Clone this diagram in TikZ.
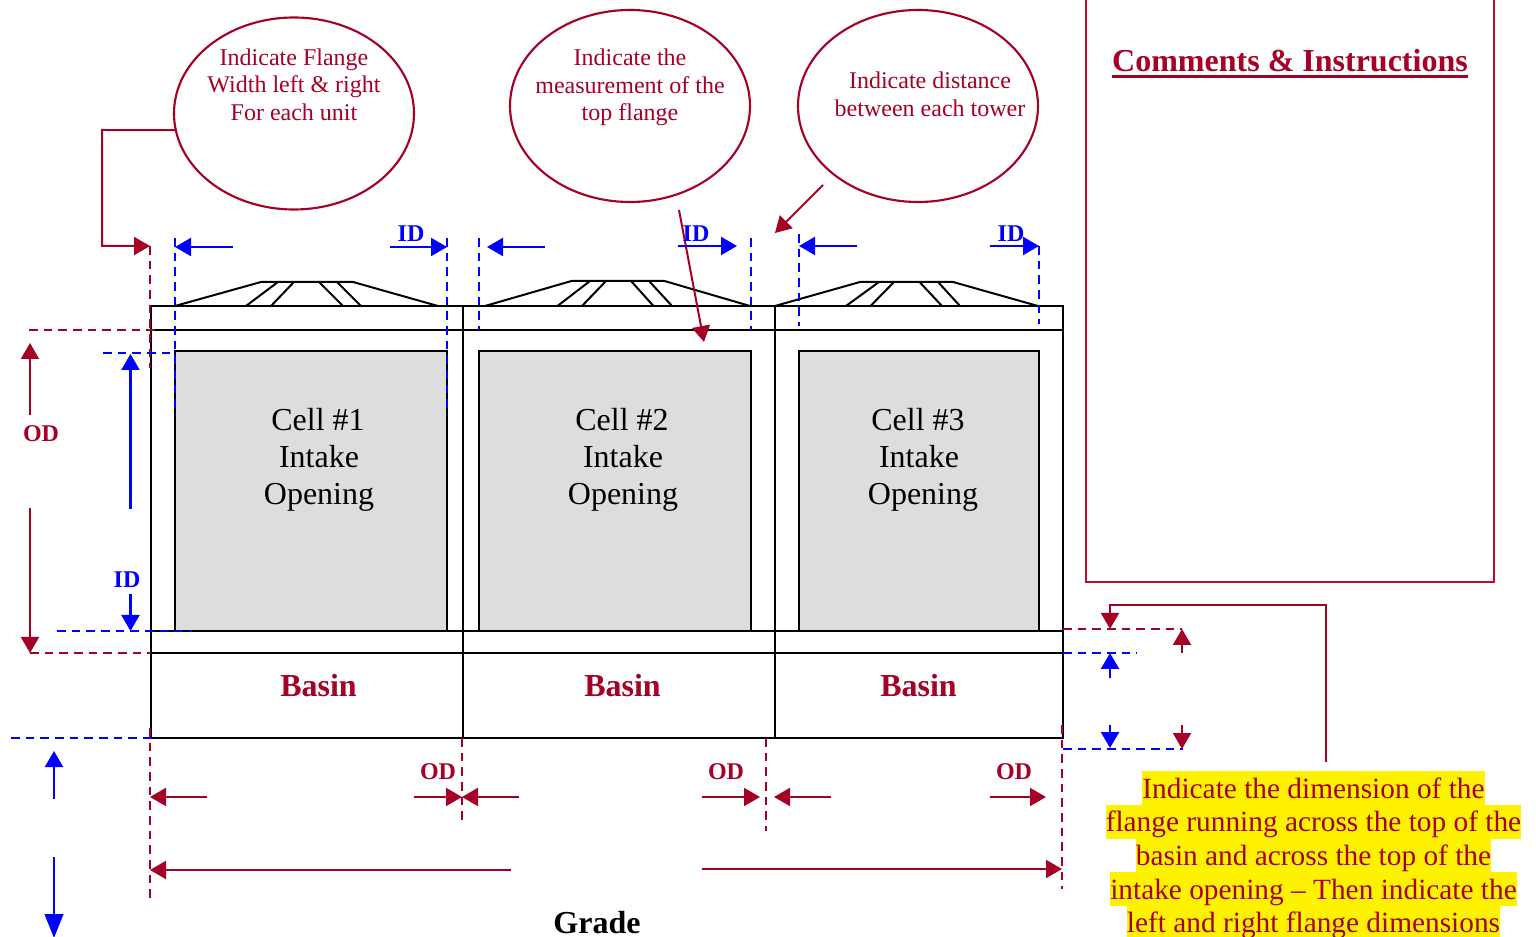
\documentclass[tikz,border=0pt]{standalone}
\usepackage{fontspec}
\setmainfont{Liberation Serif}
\usetikzlibrary{arrows.meta,shapes.geometric}
\definecolor{maroon}{RGB}{165,0,38}
\definecolor{cellgray}{RGB}{221,221,221}
\definecolor{boxred}{RGB}{190,10,40}
\newcommand{\fs}[1]{\fontsize{#1}{#1}\selectfont}
\tikzset{
  ln/.style={line width=1.5pt,black},
  tip/.style={-{Triangle[length=12pt,width=13.5pt]}},
  rdim/.style={line width=1.5pt,maroon,tip},
  bdim/.style={line width=1.6pt,blue,tip},
  rdash/.style={line width=1.4pt,maroon,dash pattern=on 6.5pt off 4.5pt},
  bdash/.style={line width=1.5pt,blue,dash pattern=on 6.5pt off 4.5pt},
  bubble/.style={ellipse,draw=maroon,line width=1.6pt,minimum width=180pt,minimum height=144pt,inner sep=0pt,outer sep=0pt},
  btxt/.style={anchor=base,text=maroon,inner sep=0pt,font=\fs{18pt}},
  celltxt/.style={anchor=base,inner sep=0pt,font=\fs{24pt}},
  basin/.style={anchor=base,text=maroon,inner sep=0pt,font=\fs{24pt}\bfseries},
  idl/.style={anchor=base,text=blue,inner sep=0pt,font=\fs{18pt}\bfseries},
  odl/.style={anchor=base,text=maroon,inner sep=0pt,font=\fs{18pt}\bfseries},
  hl/.style={anchor=base,text=maroon,fill=yellow,inner xsep=0pt,inner ysep=0pt,text height=20.25pt,text depth=5.25pt,font=\fs{22pt}},
  gcell/.style={draw=black,line width=1.5pt,fill=cellgray},
  fan/.style={line width=1.5pt,black,line join=round}
}
\begin{document}
\begin{tikzpicture}[x=0.75pt,y=-0.75pt]
\useasboundingbox (0,0) rectangle (1536,937);
% gray openings
\draw[gcell] (175,351) rectangle (447,631);
\draw[gcell] (479,351) rectangle (751,631);
\draw[gcell] (799,351) rectangle (1039,631);
% frame
\draw[ln] (151,306) rectangle (1063,738);
\foreach \x in {463,775} \draw[ln] (\x,306) -- (\x,738);
\foreach \y in {330,631,653} \draw[ln] (151,\y) -- (1063,\y);
% fans
\draw[fan] (175,306) -- (261,282) -- (353,282) -- (438,306);
\draw[fan] (278,282) -- (246,306) (294,282) -- (271,306) (319,282) -- (343,306) (337,282) -- (361,306);
\draw[fan] (485,306) -- (571.5,281) -- (664.5,281) -- (750,306);
\draw[fan] (590,281) -- (557.5,306) (606,281) -- (582,306) (631,281) -- (653.5,306) (649,281) -- (672,306);
\draw[fan] (775,306) -- (860,282) -- (953,282) -- (1038,306);
\draw[fan] (879,282) -- (846,306) (894,282) -- (870.5,306) (919.5,282) -- (942,306) (938,282) -- (960,306);
% cell text
\foreach \x/\n in {318/1,622/2,918/3}{
  \node[celltxt] (cell\n) at (\x,431) {Cell \#\n};
}
\foreach \x/\n/\xx in {319/1/319,623/2/623,919/3/923}{
  \node[celltxt] (intake\n) at (\x,468) {Intake};
  \node[celltxt] (open\n) at (\xx,505) {Opening};
}
\foreach \x/\n in {318.5/1,622.5/2,918.5/3}{
  \node[basin] (basin\n) at (\x,696) {Basin};
}
% bubbles
\node[bubble] (e1) at (294,113.5) {};
\node[bubble] (e2) at (630,106) {};
\node[bubble] (e3) at (918,106) {};
\node[btxt] (e1a) at (294,66) {Indicate Flange};
\node[btxt] (e1b) at (294,93) {Width left \& right};
\node[btxt] (e1c) at (294,121) {For each unit};
\node[btxt] (e2a) at (630,66) {Indicate the};
\node[btxt] (e2b) at (630,93.5) {measurement of the};
\node[btxt] (e2c) at (630,121) {top flange};
\node[btxt] (e3a) at (930,89) {Indicate distance};
\node[btxt] (e3b) at (930,117) {between each tower};
% comments box
\draw[boxred,line width=1.5pt] (1086,-3) -- (1086,582) -- (1494,582) -- (1494,-3);
\node[anchor=base,text=maroon,inner sep=0pt,font=\fs{24pt}\bfseries] (title) at (1290,72) {Comments \& Instructions};
\draw[maroon,line width=2.2pt] (title.west |- 0,76.5) -- (title.east |- 0,76.5);
% blue dashed verticals
\draw[bdash] (175,238) -- (175,415);
\draw[bdash] (447,238) -- (447,415);
\draw[bdash] (479,238) -- (479,330);
\draw[bdash] (751,238) -- (751,330);
\draw[bdash] (799,234) -- (799,326);
\draw[bdash] (1039,246) -- (1039,324);
% red dashed verticals
\draw[rdash] (150,246) -- (150,368);
\draw[rdash] (150,728) -- (150,904);
\draw[rdash] (462,738) -- (462,823);
\draw[rdash] (766,738) -- (766,831);
\draw[rdash] (1062,725) -- (1062,889);
% horizontal dashes
\draw[rdash] (29,330) -- (158,330);
\draw[bdash] (103,353) -- (175,353);
\draw[bdash] (57,631) -- (192,631);
\draw[rdash] (30,653) -- (151,653);
\draw[bdash] (11,738) -- (158,738);
\draw[rdash] (1063,629) -- (1182,629);
\draw[bdash] (1063,653) -- (1137,653);
\draw[bdash] (1063,749) -- (1183,749);
% elbow and callouts
\coordinate (c1) at (150,246);
\draw[rdim] (e1.188) -- (102,130) -- (102,246) -- (c1);
\draw[rdim] (679,210) -- (704,342);
\draw[rdim] (823,185) -- (775,233);
\coordinate (note) at (1326,762);
\draw[rdim] (note) -- (1326,605) -- (1110,605) -- (1110,629);
% top blue arrows
\draw[bdim] (233,247) -- (175,247);
\draw[bdim] (390,247) -- (447,247);
\draw[bdim] (545,247) -- (487,247);
\draw[bdim] (678,246) -- (737,246);
\draw[bdim] (857,246) -- (799,246);
\draw[bdim] (990,246) -- (1039,246);
\node[idl] (id1) at (411,242) {ID};
\node[idl] (id2) at (696,242) {ID};
\node[idl] (id3) at (1011,242) {ID};
% left dimensions
\draw[rdim] (30,415) -- (30,343);
\draw[rdim] (30,508) -- (30,653);
\node[odl] (od0) at (41,441.5) {OD};
\draw[bdim] (130.5,509) -- (130.5,354);
\node[idl] (id4) at (127,587.5) {ID};
\draw[bdim] (130.5,594) -- (130.5,631);
\draw[bdim] (54,799) -- (54,751);
\draw[line width=1.6pt,blue,-{Triangle[length=18pt,width=14pt]}] (54,857) -- (54,938);
% bottom dimensions
\draw[rdim] (207,797) -- (150,797);
\draw[rdim] (414,797) -- (462,797);
\draw[rdim] (519,797) -- (462,797);
\draw[rdim] (702,797) -- (760,797);
\draw[rdim] (831,797) -- (774,797);
\draw[rdim] (990,797) -- (1046,797);
\node[odl] (od1) at (438,779) {OD};
\node[odl] (od2) at (726,779) {OD};
\node[odl] (od3) at (1014,779) {OD};
\draw[rdim] (511,870) -- (150,870);
\draw[rdim] (702,869) -- (1062,869);
\node[anchor=base,inner sep=0pt,font=\fs{24pt}\bfseries] (grade) at (597,933) {Grade};
% right dimensions
\draw[bdim] (1110,678) -- (1110,653);
\draw[bdim] (1110,725) -- (1110,748);
\draw[rdim] (1182,653) -- (1182,629);
\draw[rdim] (1182,725) -- (1182,749);
% note
\node[hl] (n1) at (1313.5,798) {Indicate the dimension of the};
\node[hl] (n2) at (1313.5,831.7) {flange running across the top of the};
\node[hl] (n3) at (1313.5,865.4) {basin and across the top of the};
\node[hl] (n4) at (1313.5,899.1) {intake opening – Then indicate the};
\node[hl,text depth=3pt] (n5) at (1313.5,932.8) {left and right flange dimensions};
\end{tikzpicture}
\end{document}
